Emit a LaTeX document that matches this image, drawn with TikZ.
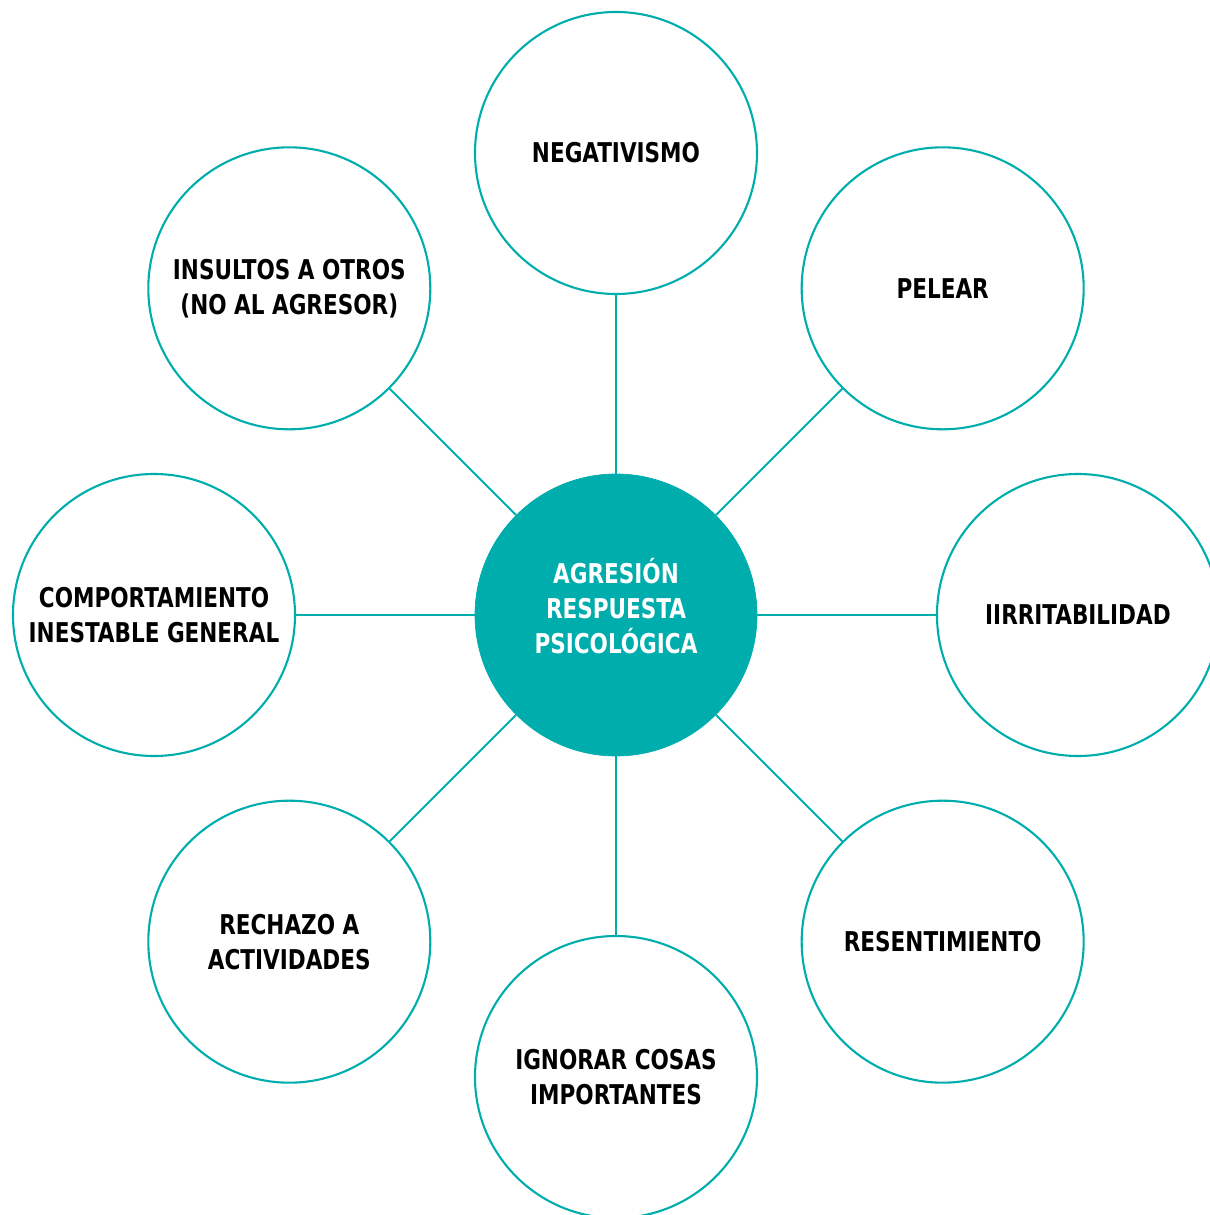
\documentclass[tikz,border=0pt]{standalone}
\usepackage{fontspec}
\setmainfont{DejaVu Sans Condensed}[FakeStretch=0.88]

\definecolor{teal}{HTML}{00ADAD}

\tikzset{
    hub/.style={circle, fill=teal, draw=teal, minimum size=5.64cm, inner sep=0pt,
        text=white, font=\fontsize{15.5}{19.9}\selectfont\bfseries, align=center,
        text depth=0.36cm},
    leaf/.style={circle, draw=teal, line width=1.2pt, minimum size=5.64cm, inner sep=0pt,
        font=\fontsize{15.5}{19.9}\selectfont\bfseries, align=center},
    spoke/.style={draw=teal, line width=1.2pt}
}

\begin{document}
\begin{tikzpicture}
            \useasboundingbox (-12.32, -12.0) rectangle (11.86, 12.3);
            \node[hub] (agresion) at (0, 0) {AGRESIÓN\\RESPUESTA\\PSICOLÓGICA};
            \foreach \ang/\nm/\txt in {
                90/negativismo/NEGATIVISMO,
                45/pelear/PELEAR,
                0/irritabilidad/IIRRITABILIDAD,
                -45/resentimiento/RESENTIMIENTO,
                -90/ignorar/IGNORAR COSAS\\IMPORTANTES,
                -135/rechazo/RECHAZO A\\ACTIVIDADES,
                180/comportamiento/COMPORTAMIENTO\\INESTABLE GENERAL,
                135/insultos/INSULTOS A OTROS\\(NO AL AGRESOR)} {
                \node[leaf] (\nm) at (\ang:9.24) {\txt};
                \draw[spoke] (agresion) -- (\nm);
            }
        \end{tikzpicture}
\end{document}
